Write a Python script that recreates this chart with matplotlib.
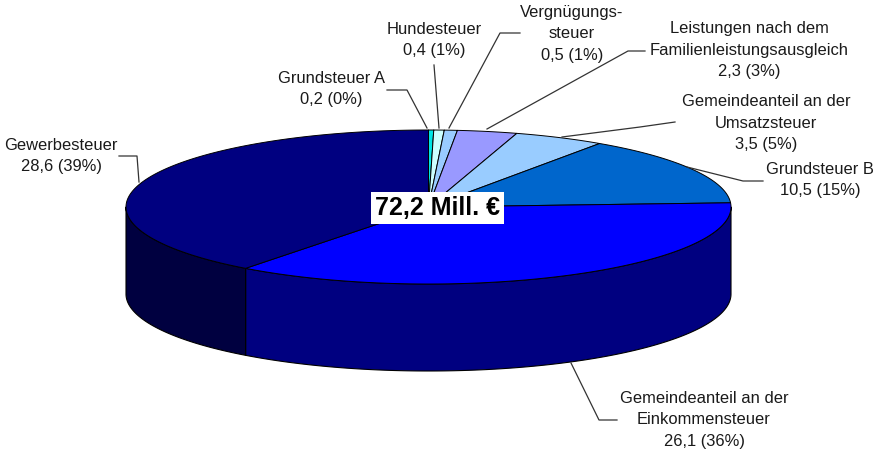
import numpy as np
import matplotlib
matplotlib.use("Agg")
import matplotlib.pyplot as plt

plt.rcParams['font.family'] = ['Liberation Sans', 'DejaVu Sans']

categories = ["Grundsteuer A", "Hundesteuer", "Vergnügungssteuer",
              "Leistungen nach dem Familienleistungsausgleich",
              "Gemeindeanteil an der Umsatzsteuer", "Grundsteuer B",
              "Gemeindeanteil an der Einkommensteuer", "Gewerbesteuer"]
values = [0.2, 0.4, 0.5, 2.3, 3.5, 10.5, 26.1, 28.6]
percents = [0, 1, 1, 3, 5, 15, 36, 39]
top_colors = ["#00E5E5", "#CCFFFF", "#99CCFF", "#9999FF", "#99CCFF",
              "#0066CC", "#0000FF", "#000080"]
side_colors = ["#007373", "#668080", "#4D6680", "#4D4D80", "#4D6680",
               "#003366", "#000080", "#000040"]

CX, CY, RX, RY, DEPTH = 428.5, 207.0, 302.5, 77.0, 87.0

fig = plt.figure(figsize=(8.75, 4.54), dpi=100)
ax = fig.add_axes([0, 0, 1, 1])
ax.set_xlim(0, 875)
ax.set_ylim(454, 0)
ax.axis("off")

def pt(a, dy=0.0):
    """a: clockwise angle from 12 o'clock, radians"""
    return CX + RX * np.sin(a), CY - RY * np.cos(a) + dy

fractions = np.array(values) / np.sum(values)
edges = np.concatenate([[0.0], np.cumsum(fractions)]) * 2 * np.pi

# side walls (front half only)
for a0, a1, c in zip(edges[:-1], edges[1:], side_colors):
    lo, hi = max(a0, np.pi / 2), min(a1, 3 * np.pi / 2)
    if hi <= lo:
        continue
    t = np.linspace(lo, hi, 200)
    x, y = pt(t)
    xb, yb = pt(t[::-1], DEPTH)
    ax.fill(np.r_[x, xb], np.r_[y, yb], facecolor=c, edgecolor="black", lw=0.8,
            joinstyle="round", zorder=2)

# top faces
for a0, a1, c in zip(edges[:-1], edges[1:], top_colors):
    t = np.linspace(a0, a1, 200)
    x, y = pt(t)
    ax.fill(np.r_[CX, x], np.r_[CY, y], facecolor=c, edgecolor="black", lw=0.7,
            joinstyle="round", zorder=3)

labels = [
    ("Grundsteuer A\n0,2 (0%)", 331, 89),
    ("Hundesteuer\n0,4 (1%)", 434, 40),
    ("Vergnügungs-\nsteuer\n0,5 (1%)", 572, 34),
    ("Leistungen nach dem\nFamilienleistungsausgleich\n2,3 (3%)", 749, 50),
    ("Gemeindeanteil an der\nUmsatzsteuer\n3,5 (5%)", 766, 123),
    ("Grundsteuer B\n10,5 (15%)", 820, 180),
    ("Gemeindeanteil an der\nEinkommensteuer\n26,1 (36%)", 704, 420),
    ("Gewerbesteuer\n28,6 (39%)", 61, 156),
]
for s, x, y in labels:
    ax.text(x, y, s, ha="center", va="center", fontsize=11.9, color="#1a1a1a",
            linespacing=1.55, zorder=6)

leaders = [
    ([387, 407, 427], [90, 90, 128]),
    ([434, 439], [65, 128]),
    ([520, 500, 449], [33, 33, 128]),
    ([645, 628, 487], [51, 51, 129]),
    ([675, 640, 562], [122, 127, 137]),
    ([763, 743, 687], [181, 181, 167]),
    ([617, 599, 571], [420, 420, 363]),
    ([119, 137, 139], [156, 156, 182]),
]
for xs, ys in leaders:
    ax.plot(xs, ys, color="#333333", lw=0.9, zorder=5)

ax.text(437.5, 208, "72,2 Mill. €", ha="center", va="center", fontsize=18,
        fontweight="bold", color="black", zorder=8,
        bbox=dict(facecolor="white", edgecolor="none", boxstyle="square,pad=0.17"))

fig.savefig("out.png", dpi=100, facecolor="white")
